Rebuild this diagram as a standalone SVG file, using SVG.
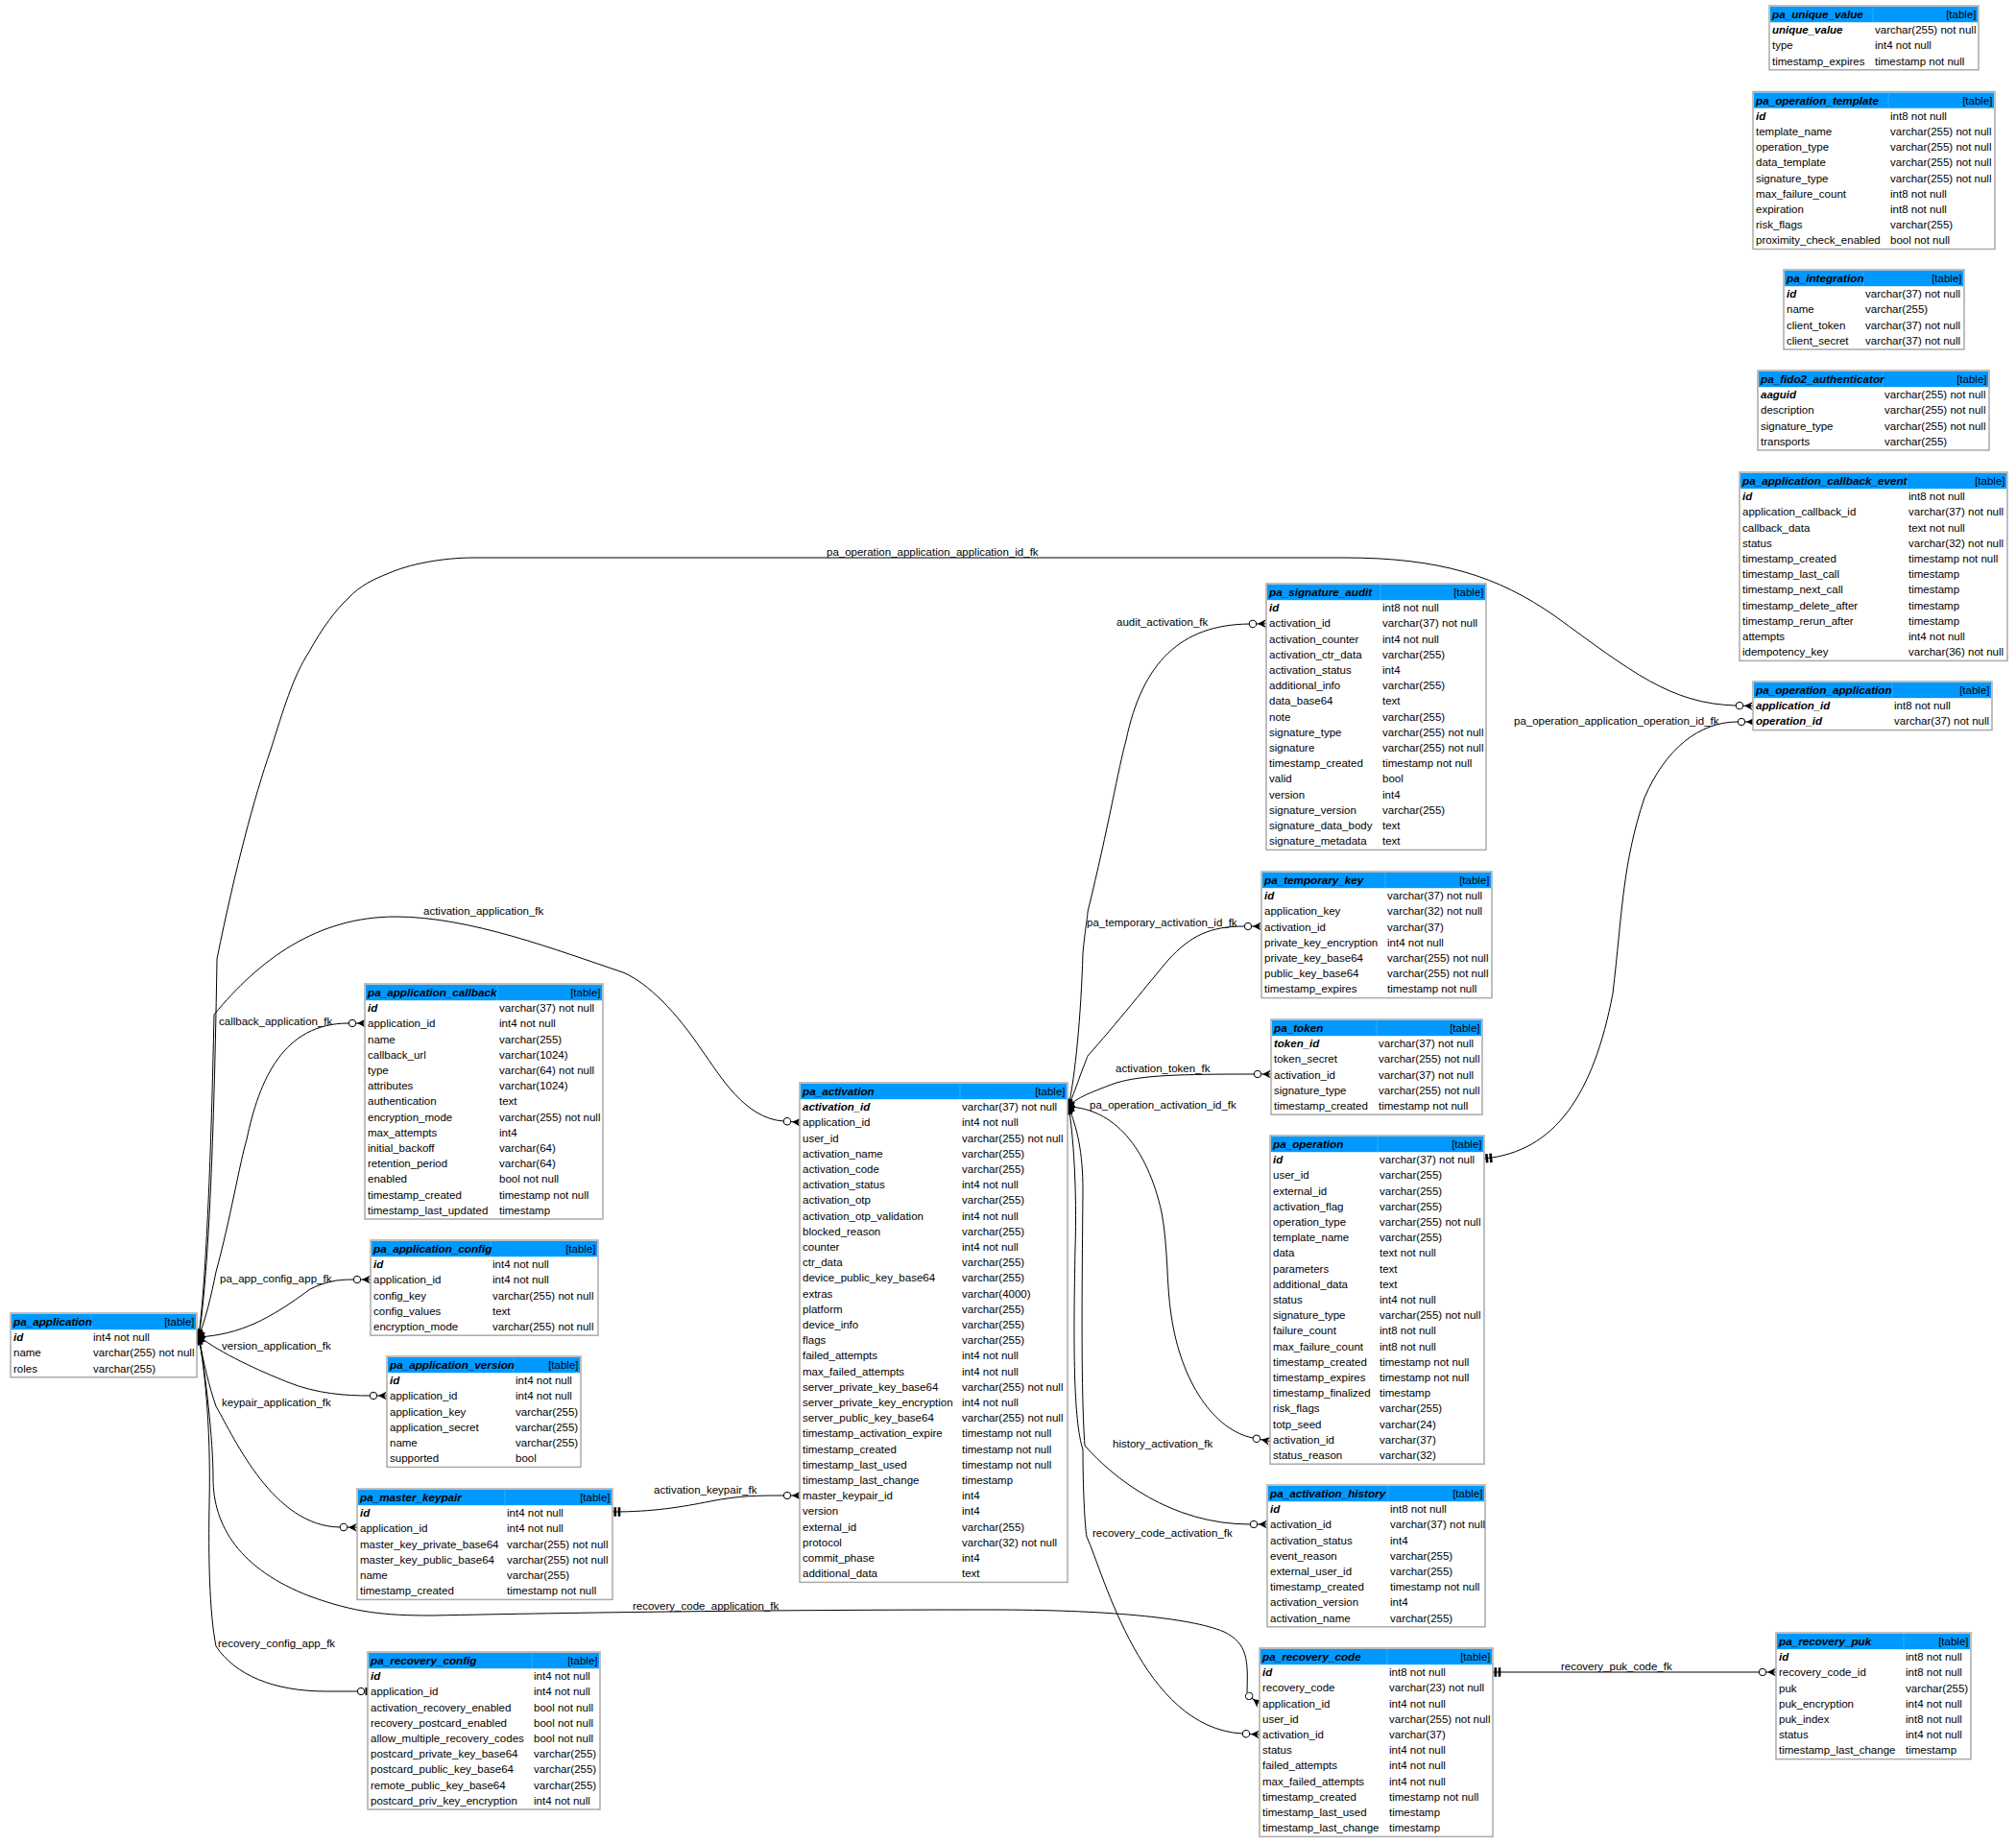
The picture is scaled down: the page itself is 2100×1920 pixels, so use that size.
<svg xmlns="http://www.w3.org/2000/svg" width="2100" height="1920" viewBox="0 0 2100 1920">
<style>
text{font-family:"Liberation Sans",Arial,sans-serif;font-size:11.5px;fill:#000}
.h,.p{font-weight:bold;font-style:italic}
.h{font-size:11.7px}
.t{text-anchor:end}
.b{fill:#fff;stroke:#aaa;stroke-width:1.5}
.hd{fill:#0099ff}
.dv{stroke:#33adff;stroke-width:1}
.e{fill:none;stroke:#000;stroke-width:1}
.z{marker-end:url(#zm)}
.s{marker-start:url(#tt)}
</style>
<defs>
<marker id="zm" markerUnits="userSpaceOnUse" markerWidth="20" markerHeight="12" refX="0" refY="6" orient="auto" overflow="visible">
<g transform="translate(0,6)"><circle cx="4" cy="0" r="3.7" fill="#fff" stroke="#000" stroke-width="1"/><path d="M9 0L18 -4.5L15 0L18 4.5Z" fill="#000"/><path d="M7.7 0H18" stroke="#000" stroke-width="1"/></g>
</marker>
<marker id="tt" markerUnits="userSpaceOnUse" markerWidth="12" markerHeight="12" refX="0" refY="6" orient="auto" overflow="visible">
<path d="M1.5 1.3h2.6v9.4h-2.6zM5.7 1.3h2.6v9.4h-2.6z" fill="#000"/>
</marker>
<path id="blob" d="M-1 -8L1.5 -6.5L3 -7L3.5 -4.5L5.5 -4L4.5 -2L6 0L4.5 2L5.5 4L3.5 4.5L3 7L1 6.5L-1 8L-2 5.5L-4.5 6L-3.8 3.5L-6 2.5L-4.5 0.5L-6 -2L-3.8 -3L-4.5 -6L-2 -5.5Z" fill="#000"/>
<g id="crowodot"><circle cx="4" cy="0" r="3.7" fill="#fff" stroke="#000" stroke-width="1"/><path d="M9 0L18 -4.5L15 0L18 4.5Z" fill="#000"/><path d="M7.7 0H18" stroke="#000" stroke-width="1"/></g>
</defs>
<rect width="2100" height="1920" fill="#fff"/>
<g id="connectors">
<path class="e z" d="M207 1392C214 1350 222 1250 226 999C245 905 265 830 282 781C295 740 305 705 322 679C335 655 350 635 363 623C375 610 390 603 404 597.600C425 588 460 581 494 581L1400 581C1500 581 1560 600 1620 642C1700 700 1740 733 1808 735"/>
<path class="e z" d="M207 1392C215 1330 220 1200 223 1057C270 1000 330 955 412 955C490 955 580 990 649 1013C675 1024 705 1055 731 1094C750 1120 775 1165 816 1168"/>
<path class="e z" d="M207 1392C214 1375 220 1350 225 1325C240 1270 250 1210 257 1187C270 1125 295 1066 363 1066"/>
<path class="e z" d="M207 1393C250 1390 280 1375 323 1343C340 1335 350 1333 368 1333"/>
<path class="e z" d="M207 1392C230 1410 270 1428 300 1440C330 1452 360 1454 385 1454"/>
<path class="e z" d="M207 1392C212 1420 218 1445 225 1465C245 1500 285 1590 354 1591"/>
<path class="e" d="M207 1392C214 1430 222 1500 222 1540C222 1590 250 1635 323 1663C370 1680 400 1683 450 1683C600 1680 800 1677 1033 1677C1150 1677 1240 1685 1275 1700C1300 1712 1300 1730 1299 1763"/>
<path class="e" d="M207 1392C212 1420 220 1480 218 1567C217 1620 218 1680 225 1715C245 1745 285 1762 340 1762L372 1762"/>
<circle cx="376" cy="1762" r="3.700" fill="#fff" stroke="#000" stroke-width="1"/><rect x="380.500" y="1758" width="3" height="8" fill="#000"/>
<path class="e z s" d="M1555 1742L1832 1742"/>
<path class="e z s" d="M638 1575C680 1575 710 1570 740 1564C770 1558 790 1558 816 1558"/>
<path class="e z" d="M1113 1153C1120 1120 1126 1060 1128 993C1130 970 1133 955 1133 950C1155 860 1165 800 1173 771C1190 690 1230 651 1301 650"/>
<path class="e z" d="M1113 1153C1118 1140 1122 1130 1125 1121C1130 1108 1133 1100 1133 1100C1160 1070 1200 1020 1217 1000C1240 975 1260 965 1296 965"/>
<path class="e z" d="M1113 1153C1120 1145 1130 1140 1163 1128C1190 1120 1230 1119 1306 1119"/>
<path class="e z" d="M1113 1153C1160 1155 1195 1195 1210 1263C1217 1300 1215 1340 1220 1370C1230 1440 1265 1490 1305 1498"/>
<path class="e z" d="M1113 1153C1122 1175 1128 1200 1128 1240C1127 1350 1126 1450 1130 1506C1160 1540 1220 1588 1302 1588"/>
<path class="e z" d="M1113 1153C1118 1180 1122 1240 1120 1300C1118 1400 1118 1480 1128 1510C1128 1550 1130 1590 1132 1601C1150 1640 1190 1800 1294 1806"/>
<path class="e z s" d="M1546 1207C1620 1200 1660 1140 1680 1035C1690 950 1690 900 1713 831C1735 780 1770 752 1810 752"/>
<use href="#crowodot" transform="translate(1298,1764.500) rotate(37)"/>
<use href="#blob" transform="translate(207.500,1393) scale(1.150)"/>
<use href="#blob" transform="translate(1113.500,1153) scale(1.150)"/>
<text x="861" y="579">pa_operation_application_application_id_fk</text>
<text x="441" y="953">activation_application_fk</text>
<text x="228" y="1068">callback_application_fk</text>
<text x="229" y="1336">pa_app_config_app_fk</text>
<text x="231" y="1406">version_application_fk</text>
<text x="231" y="1465">keypair_application_fk</text>
<text x="681" y="1556">activation_keypair_fk</text>
<text x="659" y="1677">recovery_code_application_fk</text>
<text x="227" y="1716">recovery_config_app_fk</text>
<text x="1163" y="652">audit_activation_fk</text>
<text x="1132" y="965">pa_temporary_activation_id_fk</text>
<text x="1162" y="1117">activation_token_fk</text>
<text x="1135" y="1155">pa_operation_activation_id_fk</text>
<text x="1159" y="1508">history_activation_fk</text>
<text x="1138" y="1601">recovery_code_activation_fk</text>
<text x="1577" y="755">pa_operation_application_operation_id_fk</text>
<text x="1626" y="1740">recovery_puk_code_fk</text>
</g>
<g id="pa_unique_value" transform="translate(1843,6)">
<rect class="b" width="218" height="66.800"/><rect class="hd" x="1" y="1" width="216" height="16.200"/><path class="dv" d="M108 1V17"/>
<text class="h" x="3" y="13">pa_unique_value</text><text class="t" x="215.500" y="13">[table]</text>
<text class="p" x="3" y="29.200">unique_value</text><text x="110" y="29.200">varchar(255) not null</text>
<text x="3" y="45.400">type</text><text x="110" y="45.400">int4 not null</text>
<text x="3" y="61.600">timestamp_expires</text><text x="110" y="61.600">timestamp not null</text>
</g>
<g id="pa_operation_template" transform="translate(1826,95.500)">
<rect class="b" width="252" height="164"/><rect class="hd" x="1" y="1" width="250" height="16.200"/><path class="dv" d="M141 1V17"/>
<text class="h" x="3" y="13">pa_operation_template</text><text class="t" x="249.500" y="13">[table]</text>
<text class="p" x="3" y="29.200">id</text><text x="143" y="29.200">int8 not null</text>
<text x="3" y="45.400">template_name</text><text x="143" y="45.400">varchar(255) not null</text>
<text x="3" y="61.600">operation_type</text><text x="143" y="61.600">varchar(255) not null</text>
<text x="3" y="77.800">data_template</text><text x="143" y="77.800">varchar(255) not null</text>
<text x="3" y="94">signature_type</text><text x="143" y="94">varchar(255) not null</text>
<text x="3" y="110.200">max_failure_count</text><text x="143" y="110.200">int8 not null</text>
<text x="3" y="126.400">expiration</text><text x="143" y="126.400">int8 not null</text>
<text x="3" y="142.600">risk_flags</text><text x="143" y="142.600">varchar(255)</text>
<text x="3" y="158.800">proximity_check_enabled</text><text x="143" y="158.800">bool not null</text>
</g>
<g id="pa_integration" transform="translate(1858,281)">
<rect class="b" width="188" height="83"/><rect class="hd" x="1" y="1" width="186" height="16.200"/><path class="dv" d="M83 1V17"/>
<text class="h" x="3" y="13">pa_integration</text><text class="t" x="185.500" y="13">[table]</text>
<text class="p" x="3" y="29.200">id</text><text x="85" y="29.200">varchar(37) not null</text>
<text x="3" y="45.400">name</text><text x="85" y="45.400">varchar(255)</text>
<text x="3" y="61.600">client_token</text><text x="85" y="61.600">varchar(37) not null</text>
<text x="3" y="77.800">client_secret</text><text x="85" y="77.800">varchar(37) not null</text>
</g>
<g id="pa_fido2_authenticator" transform="translate(1831,386)">
<rect class="b" width="241" height="83"/><rect class="hd" x="1" y="1" width="239" height="16.200"/><path class="dv" d="M130 1V17"/>
<text class="h" x="3" y="13">pa_fido2_authenticator</text><text class="t" x="238.500" y="13">[table]</text>
<text class="p" x="3" y="29.200">aaguid</text><text x="132" y="29.200">varchar(255) not null</text>
<text x="3" y="45.400">description</text><text x="132" y="45.400">varchar(255) not null</text>
<text x="3" y="61.600">signature_type</text><text x="132" y="61.600">varchar(255) not null</text>
<text x="3" y="77.800">transports</text><text x="132" y="77.800">varchar(255)</text>
</g>
<g id="pa_application_callback_event" transform="translate(1812,492)">
<rect class="b" width="279" height="196.400"/><rect class="hd" x="1" y="1" width="277" height="16.200"/><path class="dv" d="M174 1V17"/>
<text class="h" x="3" y="13">pa_application_callback_event</text><text class="t" x="276.500" y="13">[table]</text>
<text class="p" x="3" y="29.200">id</text><text x="176" y="29.200">int8 not null</text>
<text x="3" y="45.400">application_callback_id</text><text x="176" y="45.400">varchar(37) not null</text>
<text x="3" y="61.600">callback_data</text><text x="176" y="61.600">text not null</text>
<text x="3" y="77.800">status</text><text x="176" y="77.800">varchar(32) not null</text>
<text x="3" y="94">timestamp_created</text><text x="176" y="94">timestamp not null</text>
<text x="3" y="110.200">timestamp_last_call</text><text x="176" y="110.200">timestamp</text>
<text x="3" y="126.400">timestamp_next_call</text><text x="176" y="126.400">timestamp</text>
<text x="3" y="142.600">timestamp_delete_after</text><text x="176" y="142.600">timestamp</text>
<text x="3" y="158.800">timestamp_rerun_after</text><text x="176" y="158.800">timestamp</text>
<text x="3" y="175">attempts</text><text x="176" y="175">int4 not null</text>
<text x="3" y="191.200">idempotency_key</text><text x="176" y="191.200">varchar(36) not null</text>
</g>
<g id="pa_operation_application" transform="translate(1826,710)">
<rect class="b" width="249" height="50.600"/><rect class="hd" x="1" y="1" width="247" height="16.200"/><path class="dv" d="M145 1V17"/>
<text class="h" x="3" y="13">pa_operation_application</text><text class="t" x="246.500" y="13">[table]</text>
<text class="p" x="3" y="29.200">application_id</text><text x="147" y="29.200">int8 not null</text>
<text class="p" x="3" y="45.400">operation_id</text><text x="147" y="45.400">varchar(37) not null</text>
</g>
<g id="pa_signature_audit" transform="translate(1319,608)">
<rect class="b" width="229" height="277.400"/><rect class="hd" x="1" y="1" width="227" height="16.200"/><path class="dv" d="M119 1V17"/>
<text class="h" x="3" y="13">pa_signature_audit</text><text class="t" x="226.500" y="13">[table]</text>
<text class="p" x="3" y="29.200">id</text><text x="121" y="29.200">int8 not null</text>
<text x="3" y="45.400">activation_id</text><text x="121" y="45.400">varchar(37) not null</text>
<text x="3" y="61.600">activation_counter</text><text x="121" y="61.600">int4 not null</text>
<text x="3" y="77.800">activation_ctr_data</text><text x="121" y="77.800">varchar(255)</text>
<text x="3" y="94">activation_status</text><text x="121" y="94">int4</text>
<text x="3" y="110.200">additional_info</text><text x="121" y="110.200">varchar(255)</text>
<text x="3" y="126.400">data_base64</text><text x="121" y="126.400">text</text>
<text x="3" y="142.600">note</text><text x="121" y="142.600">varchar(255)</text>
<text x="3" y="158.800">signature_type</text><text x="121" y="158.800">varchar(255) not null</text>
<text x="3" y="175">signature</text><text x="121" y="175">varchar(255) not null</text>
<text x="3" y="191.200">timestamp_created</text><text x="121" y="191.200">timestamp not null</text>
<text x="3" y="207.400">valid</text><text x="121" y="207.400">bool</text>
<text x="3" y="223.600">version</text><text x="121" y="223.600">int4</text>
<text x="3" y="239.800">signature_version</text><text x="121" y="239.800">varchar(255)</text>
<text x="3" y="256">signature_data_body</text><text x="121" y="256">text</text>
<text x="3" y="272.200">signature_metadata</text><text x="121" y="272.200">text</text>
</g>
<g id="pa_temporary_key" transform="translate(1314,908)">
<rect class="b" width="240" height="131.600"/><rect class="hd" x="1" y="1" width="238" height="16.200"/><path class="dv" d="M129 1V17"/>
<text class="h" x="3" y="13">pa_temporary_key</text><text class="t" x="237.500" y="13">[table]</text>
<text class="p" x="3" y="29.200">id</text><text x="131" y="29.200">varchar(37) not null</text>
<text x="3" y="45.400">application_key</text><text x="131" y="45.400">varchar(32) not null</text>
<text x="3" y="61.600">activation_id</text><text x="131" y="61.600">varchar(37)</text>
<text x="3" y="77.800">private_key_encryption</text><text x="131" y="77.800">int4 not null</text>
<text x="3" y="94">private_key_base64</text><text x="131" y="94">varchar(255) not null</text>
<text x="3" y="110.200">public_key_base64</text><text x="131" y="110.200">varchar(255) not null</text>
<text x="3" y="126.400">timestamp_expires</text><text x="131" y="126.400">timestamp not null</text>
</g>
<g id="pa_token" transform="translate(1324,1062)">
<rect class="b" width="220" height="99.200"/><rect class="hd" x="1" y="1" width="218" height="16.200"/><path class="dv" d="M110 1V17"/>
<text class="h" x="3" y="13">pa_token</text><text class="t" x="217.500" y="13">[table]</text>
<text class="p" x="3" y="29.200">token_id</text><text x="112" y="29.200">varchar(37) not null</text>
<text x="3" y="45.400">token_secret</text><text x="112" y="45.400">varchar(255) not null</text>
<text x="3" y="61.600">activation_id</text><text x="112" y="61.600">varchar(37) not null</text>
<text x="3" y="77.800">signature_type</text><text x="112" y="77.800">varchar(255) not null</text>
<text x="3" y="94">timestamp_created</text><text x="112" y="94">timestamp not null</text>
</g>
<g id="pa_operation" transform="translate(1323,1183)">
<rect class="b" width="223" height="342.200"/><rect class="hd" x="1" y="1" width="221" height="16.200"/><path class="dv" d="M112 1V17"/>
<text class="h" x="3" y="13">pa_operation</text><text class="t" x="220.500" y="13">[table]</text>
<text class="p" x="3" y="29.200">id</text><text x="114" y="29.200">varchar(37) not null</text>
<text x="3" y="45.400">user_id</text><text x="114" y="45.400">varchar(255)</text>
<text x="3" y="61.600">external_id</text><text x="114" y="61.600">varchar(255)</text>
<text x="3" y="77.800">activation_flag</text><text x="114" y="77.800">varchar(255)</text>
<text x="3" y="94">operation_type</text><text x="114" y="94">varchar(255) not null</text>
<text x="3" y="110.200">template_name</text><text x="114" y="110.200">varchar(255)</text>
<text x="3" y="126.400">data</text><text x="114" y="126.400">text not null</text>
<text x="3" y="142.600">parameters</text><text x="114" y="142.600">text</text>
<text x="3" y="158.800">additional_data</text><text x="114" y="158.800">text</text>
<text x="3" y="175">status</text><text x="114" y="175">int4 not null</text>
<text x="3" y="191.200">signature_type</text><text x="114" y="191.200">varchar(255) not null</text>
<text x="3" y="207.400">failure_count</text><text x="114" y="207.400">int8 not null</text>
<text x="3" y="223.600">max_failure_count</text><text x="114" y="223.600">int8 not null</text>
<text x="3" y="239.800">timestamp_created</text><text x="114" y="239.800">timestamp not null</text>
<text x="3" y="256">timestamp_expires</text><text x="114" y="256">timestamp not null</text>
<text x="3" y="272.200">timestamp_finalized</text><text x="114" y="272.200">timestamp</text>
<text x="3" y="288.400">risk_flags</text><text x="114" y="288.400">varchar(255)</text>
<text x="3" y="304.600">totp_seed</text><text x="114" y="304.600">varchar(24)</text>
<text x="3" y="320.800">activation_id</text><text x="114" y="320.800">varchar(37)</text>
<text x="3" y="337">status_reason</text><text x="114" y="337">varchar(32)</text>
</g>
<g id="pa_activation_history" transform="translate(1320,1547)">
<rect class="b" width="227" height="147.800"/><rect class="hd" x="1" y="1" width="225" height="16.200"/><path class="dv" d="M126 1V17"/>
<text class="h" x="3" y="13">pa_activation_history</text><text class="t" x="224.500" y="13">[table]</text>
<text class="p" x="3" y="29.200">id</text><text x="128" y="29.200">int8 not null</text>
<text x="3" y="45.400">activation_id</text><text x="128" y="45.400">varchar(37) not null</text>
<text x="3" y="61.600">activation_status</text><text x="128" y="61.600">int4</text>
<text x="3" y="77.800">event_reason</text><text x="128" y="77.800">varchar(255)</text>
<text x="3" y="94">external_user_id</text><text x="128" y="94">varchar(255)</text>
<text x="3" y="110.200">timestamp_created</text><text x="128" y="110.200">timestamp not null</text>
<text x="3" y="126.400">activation_version</text><text x="128" y="126.400">int4</text>
<text x="3" y="142.600">activation_name</text><text x="128" y="142.600">varchar(255)</text>
</g>
<g id="pa_recovery_code" transform="translate(1312,1717)">
<rect class="b" width="243" height="196.400"/><rect class="hd" x="1" y="1" width="241" height="16.200"/><path class="dv" d="M133 1V17"/>
<text class="h" x="3" y="13">pa_recovery_code</text><text class="t" x="240.500" y="13">[table]</text>
<text class="p" x="3" y="29.200">id</text><text x="135" y="29.200">int8 not null</text>
<text x="3" y="45.400">recovery_code</text><text x="135" y="45.400">varchar(23) not null</text>
<text x="3" y="61.600">application_id</text><text x="135" y="61.600">int4 not null</text>
<text x="3" y="77.800">user_id</text><text x="135" y="77.800">varchar(255) not null</text>
<text x="3" y="94">activation_id</text><text x="135" y="94">varchar(37)</text>
<text x="3" y="110.200">status</text><text x="135" y="110.200">int4 not null</text>
<text x="3" y="126.400">failed_attempts</text><text x="135" y="126.400">int4 not null</text>
<text x="3" y="142.600">max_failed_attempts</text><text x="135" y="142.600">int4 not null</text>
<text x="3" y="158.800">timestamp_created</text><text x="135" y="158.800">timestamp not null</text>
<text x="3" y="175">timestamp_last_used</text><text x="135" y="175">timestamp</text>
<text x="3" y="191.200">timestamp_last_change</text><text x="135" y="191.200">timestamp</text>
</g>
<g id="pa_recovery_puk" transform="translate(1850,1701)">
<rect class="b" width="203" height="131.600"/><rect class="hd" x="1" y="1" width="201" height="16.200"/><path class="dv" d="M133 1V17"/>
<text class="h" x="3" y="13">pa_recovery_puk</text><text class="t" x="200.500" y="13">[table]</text>
<text class="p" x="3" y="29.200">id</text><text x="135" y="29.200">int8 not null</text>
<text x="3" y="45.400">recovery_code_id</text><text x="135" y="45.400">int8 not null</text>
<text x="3" y="61.600">puk</text><text x="135" y="61.600">varchar(255)</text>
<text x="3" y="77.800">puk_encryption</text><text x="135" y="77.800">int4 not null</text>
<text x="3" y="94">puk_index</text><text x="135" y="94">int8 not null</text>
<text x="3" y="110.200">status</text><text x="135" y="110.200">int4 not null</text>
<text x="3" y="126.400">timestamp_last_change</text><text x="135" y="126.400">timestamp</text>
</g>
<g id="pa_activation" transform="translate(833,1128)">
<rect class="b" width="279" height="520.400"/><rect class="hd" x="1" y="1" width="277" height="16.200"/><path class="dv" d="M167 1V17"/>
<text class="h" x="3" y="13">pa_activation</text><text class="t" x="276.500" y="13">[table]</text>
<text class="p" x="3" y="29.200">activation_id</text><text x="169" y="29.200">varchar(37) not null</text>
<text x="3" y="45.400">application_id</text><text x="169" y="45.400">int4 not null</text>
<text x="3" y="61.600">user_id</text><text x="169" y="61.600">varchar(255) not null</text>
<text x="3" y="77.800">activation_name</text><text x="169" y="77.800">varchar(255)</text>
<text x="3" y="94">activation_code</text><text x="169" y="94">varchar(255)</text>
<text x="3" y="110.200">activation_status</text><text x="169" y="110.200">int4 not null</text>
<text x="3" y="126.400">activation_otp</text><text x="169" y="126.400">varchar(255)</text>
<text x="3" y="142.600">activation_otp_validation</text><text x="169" y="142.600">int4 not null</text>
<text x="3" y="158.800">blocked_reason</text><text x="169" y="158.800">varchar(255)</text>
<text x="3" y="175">counter</text><text x="169" y="175">int4 not null</text>
<text x="3" y="191.200">ctr_data</text><text x="169" y="191.200">varchar(255)</text>
<text x="3" y="207.400">device_public_key_base64</text><text x="169" y="207.400">varchar(255)</text>
<text x="3" y="223.600">extras</text><text x="169" y="223.600">varchar(4000)</text>
<text x="3" y="239.800">platform</text><text x="169" y="239.800">varchar(255)</text>
<text x="3" y="256">device_info</text><text x="169" y="256">varchar(255)</text>
<text x="3" y="272.200">flags</text><text x="169" y="272.200">varchar(255)</text>
<text x="3" y="288.400">failed_attempts</text><text x="169" y="288.400">int4 not null</text>
<text x="3" y="304.600">max_failed_attempts</text><text x="169" y="304.600">int4 not null</text>
<text x="3" y="320.800">server_private_key_base64</text><text x="169" y="320.800">varchar(255) not null</text>
<text x="3" y="337">server_private_key_encryption</text><text x="169" y="337">int4 not null</text>
<text x="3" y="353.200">server_public_key_base64</text><text x="169" y="353.200">varchar(255) not null</text>
<text x="3" y="369.400">timestamp_activation_expire</text><text x="169" y="369.400">timestamp not null</text>
<text x="3" y="385.600">timestamp_created</text><text x="169" y="385.600">timestamp not null</text>
<text x="3" y="401.800">timestamp_last_used</text><text x="169" y="401.800">timestamp not null</text>
<text x="3" y="418">timestamp_last_change</text><text x="169" y="418">timestamp</text>
<text x="3" y="434.200">master_keypair_id</text><text x="169" y="434.200">int4</text>
<text x="3" y="450.400">version</text><text x="169" y="450.400">int4</text>
<text x="3" y="466.600">external_id</text><text x="169" y="466.600">varchar(255)</text>
<text x="3" y="482.800">protocol</text><text x="169" y="482.800">varchar(32) not null</text>
<text x="3" y="499">commit_phase</text><text x="169" y="499">int4</text>
<text x="3" y="515.200">additional_data</text><text x="169" y="515.200">text</text>
</g>
<g id="pa_application_callback" transform="translate(380,1025)">
<rect class="b" width="248" height="245"/><rect class="hd" x="1" y="1" width="246" height="16.200"/><path class="dv" d="M138 1V17"/>
<text class="h" x="3" y="13">pa_application_callback</text><text class="t" x="245.500" y="13">[table]</text>
<text class="p" x="3" y="29.200">id</text><text x="140" y="29.200">varchar(37) not null</text>
<text x="3" y="45.400">application_id</text><text x="140" y="45.400">int4 not null</text>
<text x="3" y="61.600">name</text><text x="140" y="61.600">varchar(255)</text>
<text x="3" y="77.800">callback_url</text><text x="140" y="77.800">varchar(1024)</text>
<text x="3" y="94">type</text><text x="140" y="94">varchar(64) not null</text>
<text x="3" y="110.200">attributes</text><text x="140" y="110.200">varchar(1024)</text>
<text x="3" y="126.400">authentication</text><text x="140" y="126.400">text</text>
<text x="3" y="142.600">encryption_mode</text><text x="140" y="142.600">varchar(255) not null</text>
<text x="3" y="158.800">max_attempts</text><text x="140" y="158.800">int4</text>
<text x="3" y="175">initial_backoff</text><text x="140" y="175">varchar(64)</text>
<text x="3" y="191.200">retention_period</text><text x="140" y="191.200">varchar(64)</text>
<text x="3" y="207.400">enabled</text><text x="140" y="207.400">bool not null</text>
<text x="3" y="223.600">timestamp_created</text><text x="140" y="223.600">timestamp not null</text>
<text x="3" y="239.800">timestamp_last_updated</text><text x="140" y="239.800">timestamp</text>
</g>
<g id="pa_application_config" transform="translate(386,1292)">
<rect class="b" width="237" height="99.200"/><rect class="hd" x="1" y="1" width="235" height="16.200"/><path class="dv" d="M125 1V17"/>
<text class="h" x="3" y="13">pa_application_config</text><text class="t" x="234.500" y="13">[table]</text>
<text class="p" x="3" y="29.200">id</text><text x="127" y="29.200">int4 not null</text>
<text x="3" y="45.400">application_id</text><text x="127" y="45.400">int4 not null</text>
<text x="3" y="61.600">config_key</text><text x="127" y="61.600">varchar(255) not null</text>
<text x="3" y="77.800">config_values</text><text x="127" y="77.800">text</text>
<text x="3" y="94">encryption_mode</text><text x="127" y="94">varchar(255) not null</text>
</g>
<g id="pa_application_version" transform="translate(403,1413)">
<rect class="b" width="202" height="115.400"/><rect class="hd" x="1" y="1" width="200" height="16.200"/><path class="dv" d="M132 1V17"/>
<text class="h" x="3" y="13">pa_application_version</text><text class="t" x="199.500" y="13">[table]</text>
<text class="p" x="3" y="29.200">id</text><text x="134" y="29.200">int4 not null</text>
<text x="3" y="45.400">application_id</text><text x="134" y="45.400">int4 not null</text>
<text x="3" y="61.600">application_key</text><text x="134" y="61.600">varchar(255)</text>
<text x="3" y="77.800">application_secret</text><text x="134" y="77.800">varchar(255)</text>
<text x="3" y="94">name</text><text x="134" y="94">varchar(255)</text>
<text x="3" y="110.200">supported</text><text x="134" y="110.200">bool</text>
</g>
<g id="pa_master_keypair" transform="translate(372,1551)">
<rect class="b" width="266" height="115.400"/><rect class="hd" x="1" y="1" width="264" height="16.200"/><path class="dv" d="M154 1V17"/>
<text class="h" x="3" y="13">pa_master_keypair</text><text class="t" x="263.500" y="13">[table]</text>
<text class="p" x="3" y="29.200">id</text><text x="156" y="29.200">int4 not null</text>
<text x="3" y="45.400">application_id</text><text x="156" y="45.400">int4 not null</text>
<text x="3" y="61.600">master_key_private_base64</text><text x="156" y="61.600">varchar(255) not null</text>
<text x="3" y="77.800">master_key_public_base64</text><text x="156" y="77.800">varchar(255) not null</text>
<text x="3" y="94">name</text><text x="156" y="94">varchar(255)</text>
<text x="3" y="110.200">timestamp_created</text><text x="156" y="110.200">timestamp not null</text>
</g>
<g id="pa_recovery_config" transform="translate(383,1721)">
<rect class="b" width="242" height="164"/><rect class="hd" x="1" y="1" width="240" height="16.200"/><path class="dv" d="M171 1V17"/>
<text class="h" x="3" y="13">pa_recovery_config</text><text class="t" x="239.500" y="13">[table]</text>
<text class="p" x="3" y="29.200">id</text><text x="173" y="29.200">int4 not null</text>
<text x="3" y="45.400">application_id</text><text x="173" y="45.400">int4 not null</text>
<text x="3" y="61.600">activation_recovery_enabled</text><text x="173" y="61.600">bool not null</text>
<text x="3" y="77.800">recovery_postcard_enabled</text><text x="173" y="77.800">bool not null</text>
<text x="3" y="94">allow_multiple_recovery_codes</text><text x="173" y="94">bool not null</text>
<text x="3" y="110.200">postcard_private_key_base64</text><text x="173" y="110.200">varchar(255)</text>
<text x="3" y="126.400">postcard_public_key_base64</text><text x="173" y="126.400">varchar(255)</text>
<text x="3" y="142.600">remote_public_key_base64</text><text x="173" y="142.600">varchar(255)</text>
<text x="3" y="158.800">postcard_priv_key_encryption</text><text x="173" y="158.800">int4 not null</text>
</g>
<g id="pa_application" transform="translate(11,1368)">
<rect class="b" width="194" height="66.800"/><rect class="hd" x="1" y="1" width="192" height="16.200"/><path class="dv" d="M84 1V17"/>
<text class="h" x="3" y="13">pa_application</text><text class="t" x="191.500" y="13">[table]</text>
<text class="p" x="3" y="29.200">id</text><text x="86" y="29.200">int4 not null</text>
<text x="3" y="45.400">name</text><text x="86" y="45.400">varchar(255) not null</text>
<text x="3" y="61.600">roles</text><text x="86" y="61.600">varchar(255)</text>
</g>
</svg>
